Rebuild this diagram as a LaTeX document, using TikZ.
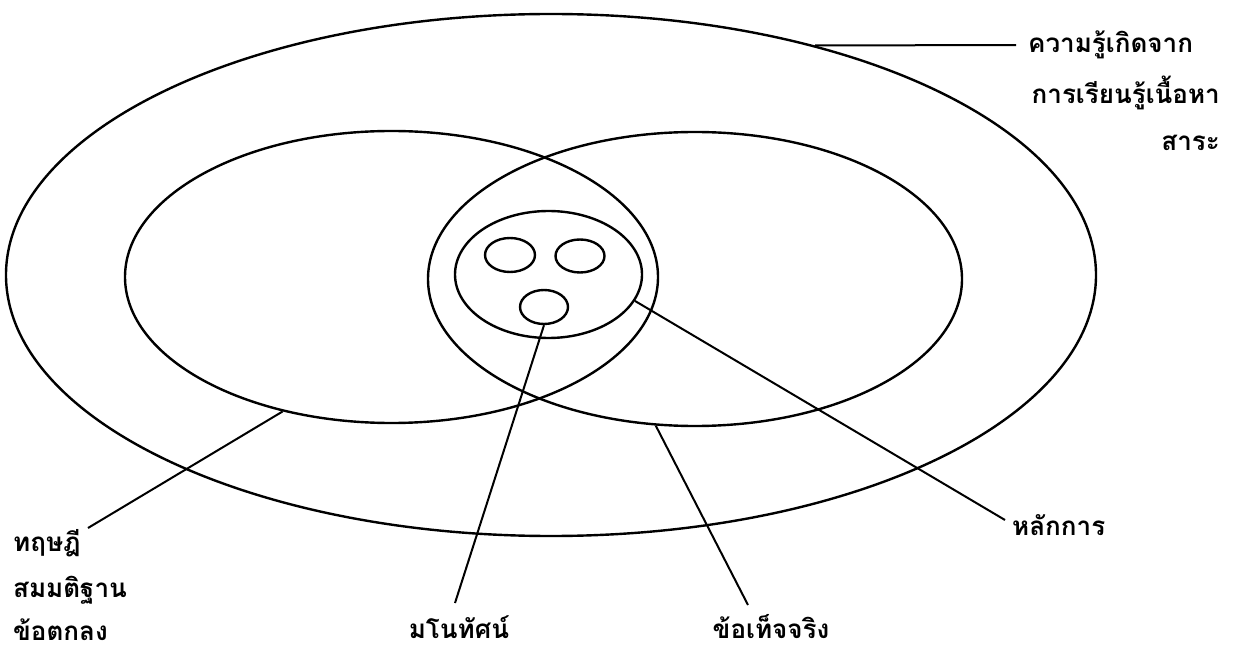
\documentclass[tikz,border=0pt]{standalone}
\usepackage{fontspec}
\newfontfamily\thaifont[Script=Thai]{Loma}
\newcommand{\thtxt}{\thaifont\bfseries\fontsize{26}{26}\selectfont}
\usetikzlibrary{shapes}

\begin{document}
\begin{tikzpicture}[x=1pt,y=-1pt,
  oval/.style={draw,ellipse,line width=2.4pt,inner sep=0pt},
  lbl/.style={inner sep=0pt,font=\thtxt}]
\useasboundingbox (0,0) rectangle (1240,652);
\node[oval,minimum width=1090,minimum height=522] (K) at (551,275) {};
\node[oval,minimum width=533,minimum height=292] (L) at (391.5,277) {};
\node[oval,minimum width=534,minimum height=294] (R) at (695,279) {};
\node[oval,minimum width=187,minimum height=127] (P) at (548.5,274.5) {};
\node[oval,minimum width=50,minimum height=34] (C1) at (510,255) {};
\node[oval,minimum width=49,minimum height=33] (C2) at (580,256) {};
\node[oval,minimum width=48,minimum height=34] (C3) at (544,307) {};
\node[lbl,anchor=west] (T1) at (1028,45) {ความรู้เกิดจาก};
\node[lbl,anchor=east] (T1b) at (1220,93) {การเรียนรู้เนื้อหา};
\node[lbl,anchor=east] (T1c) at (1220,143) {สาระ};
\node[lbl,anchor=west] (T2) at (13,543) {ทฤษฎี};
\node[lbl,anchor=west] (T2b) at (13,590) {สมมติฐาน};
\node[lbl,anchor=west] (T2c) at (13,630) {ข้อตกลง};
\node[lbl] (T3) at (459,627) {มโนทัศน์};
\node[lbl] (T4) at (771,627) {ข้อเท็จจริง};
\node[lbl,anchor=west] (T5) at (1012,525) {หลักการ};
\coordinate (e2) at (88,528); \coordinate (e3) at (455,603);
\coordinate (e4) at (748,605); \coordinate (e5) at (1005,520);
\path[line width=2pt] (K.41.4) edge[shorten >=12pt] (T1.west) (L.231.7) edge (e2)
  (C3.south) edge (e3) (R.255.4) edge (e4) (P.343.6) edge (e5);
\end{tikzpicture}
\end{document}
